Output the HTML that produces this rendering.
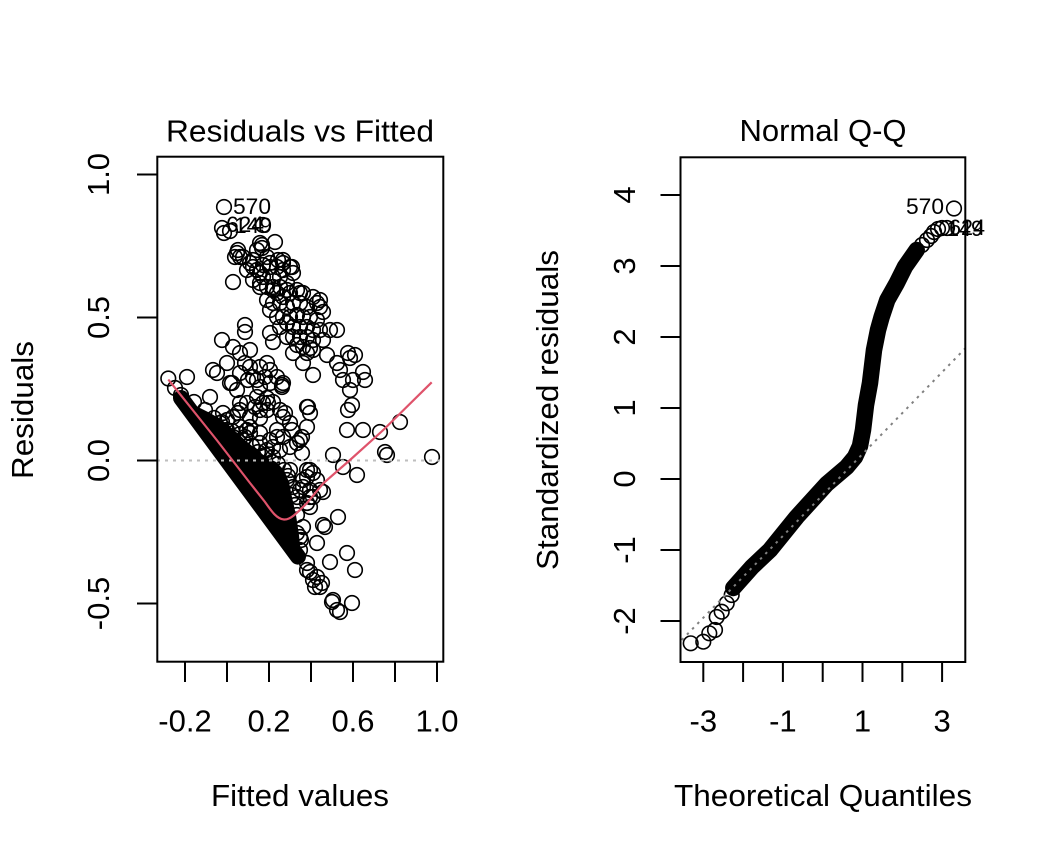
<!DOCTYPE html>
<html><head><meta charset="utf-8"><style>
html,body{margin:0;padding:0;background:#fff;}
svg{display:block;}
text{font-family:"Liberation Sans",Arial,Helvetica,sans-serif;fill:#000;}
.t{font-size:31px;}
.l{font-size:22px;}
</style></head><body>
<svg width="1046" height="858" viewBox="0 0 1046 858" xmlns="http://www.w3.org/2000/svg">
<rect width="1046" height="858" fill="#fff"/>

<!-- ============ LEFT PLOT ============ -->
<text class="t" x="300" y="141.5" text-anchor="middle" textLength="268" lengthAdjust="spacingAndGlyphs">Residuals vs Fitted</text>
<text class="t" x="300" y="806" text-anchor="middle" textLength="178" lengthAdjust="spacingAndGlyphs">Fitted values</text>
<text class="t" transform="translate(33,410) rotate(-90)" text-anchor="middle" textLength="138" lengthAdjust="spacingAndGlyphs">Residuals</text>

<g stroke="#000" stroke-width="2" fill="none">
<path d="M137,174.5H157M137,317.5H157M137,460.5H157M137,603.5H157"/>
<path d="M185,662V682M227,662V682M269,662V682M311,662V682M353,662V682M395,662V682M437,662V682"/>
</g>
<text class="t" transform="translate(109,174.5) rotate(-90)" text-anchor="middle">1.0</text>
<text class="t" transform="translate(109,317.5) rotate(-90)" text-anchor="middle">0.5</text>
<text class="t" transform="translate(109,460.5) rotate(-90)" text-anchor="middle">0.0</text>
<text class="t" transform="translate(109,603.5) rotate(-90)" text-anchor="middle">-0.5</text>
<text class="t" x="185" y="731.5" text-anchor="middle">-0.2</text>
<text class="t" x="269" y="731.5" text-anchor="middle">0.2</text>
<text class="t" x="353" y="731.5" text-anchor="middle">0.6</text>
<text class="t" x="437" y="731.5" text-anchor="middle">1.0</text>

<!-- dense band -->
<path d="M181,398 L298,556.6" stroke="#000" stroke-width="16" stroke-linecap="round" fill="none"/>
<polygon points="186,400 198,407 210,413 222,420 234,430 246,441 257,450 266,457 276,462 284,470 289,482 292,497 296,515 299,535 301,555 300,562 184,402" fill="#000"/>

<g fill="none" stroke="#000" stroke-width="1.6">
<circle cx="168.3" cy="378.5" r="7.3"/><circle cx="175" cy="388" r="7.3"/><circle cx="181" cy="395" r="7.3"/>
<circle cx="224" cy="207" r="7.3"/><circle cx="222" cy="228" r="7.3"/><circle cx="224" cy="233" r="7.3"/><circle cx="230" cy="231" r="7.3"/>
<circle cx="263" cy="225" r="7.3"/><circle cx="275" cy="242" r="7.3"/><circle cx="260" cy="243" r="7.3"/><circle cx="262" cy="248" r="7.3"/>
<circle cx="237" cy="253" r="7.3"/><circle cx="240" cy="257" r="7.3"/><circle cx="253" cy="260" r="7.3"/><circle cx="267" cy="257" r="7.3"/>
<circle cx="270" cy="267" r="7.3"/><circle cx="253" cy="267" r="7.3"/><circle cx="260" cy="273" r="7.3"/><circle cx="277" cy="267" r="7.3"/>
<circle cx="283" cy="263" r="7.3"/><circle cx="290" cy="267" r="7.3"/><circle cx="293" cy="273" r="7.3"/><circle cx="280" cy="277" r="7.3"/>
<circle cx="233" cy="282" r="7.3"/><circle cx="260" cy="287" r="7.3"/><circle cx="273" cy="287" r="7.3"/><circle cx="287" cy="290" r="7.3"/>
<circle cx="300" cy="293" r="7.3"/><circle cx="313" cy="297" r="7.3"/><circle cx="320" cy="300" r="7.3"/><circle cx="238" cy="250" r="7.3"/>
<circle cx="235" cy="257" r="7.3"/><circle cx="243" cy="257" r="7.3"/><circle cx="257" cy="250" r="7.3"/><circle cx="262" cy="245" r="7.3"/>
<circle cx="250" cy="263" r="7.3"/><circle cx="247" cy="270" r="7.3"/><circle cx="257" cy="270" r="7.3"/><circle cx="263" cy="265" r="7.3"/>
<circle cx="270" cy="263" r="7.3"/><circle cx="278" cy="260" r="7.3"/><circle cx="283" cy="260" r="7.3"/><circle cx="292" cy="267" r="7.3"/>
<circle cx="283" cy="270" r="7.3"/><circle cx="273" cy="277" r="7.3"/><circle cx="263" cy="277" r="7.3"/><circle cx="253" cy="280" r="7.3"/>
<circle cx="260" cy="283" r="7.3"/><circle cx="267" cy="287" r="7.3"/><circle cx="273" cy="290" r="7.3"/><circle cx="280" cy="287" r="7.3"/>
<circle cx="287" cy="283" r="7.3"/><circle cx="277" cy="293" r="7.3"/><circle cx="283" cy="297" r="7.3"/><circle cx="290" cy="293" r="7.3"/>
<circle cx="297" cy="290" r="7.3"/><circle cx="303" cy="293" r="7.3"/><circle cx="273" cy="303" r="7.3"/><circle cx="280" cy="303" r="7.3"/>
<circle cx="287" cy="307" r="7.3"/><circle cx="293" cy="303" r="7.3"/><circle cx="300" cy="303" r="7.3"/><circle cx="307" cy="307" r="7.3"/>
<circle cx="317" cy="303" r="7.3"/><circle cx="320" cy="307" r="7.3"/><circle cx="323" cy="312" r="7.3"/><circle cx="277" cy="317" r="7.3"/>
<circle cx="283" cy="317" r="7.3"/><circle cx="290" cy="317" r="7.3"/><circle cx="297" cy="315" r="7.3"/><circle cx="303" cy="317" r="7.3"/>
<circle cx="310" cy="317" r="7.3"/><circle cx="317" cy="320" r="7.3"/><circle cx="280" cy="327" r="7.3"/><circle cx="287" cy="323" r="7.3"/>
<circle cx="293" cy="327" r="7.3"/><circle cx="300" cy="327" r="7.3"/><circle cx="307" cy="327" r="7.3"/><circle cx="313" cy="330" r="7.3"/>
<circle cx="320" cy="330" r="7.3"/><circle cx="330" cy="330" r="7.3"/><circle cx="337" cy="330" r="7.3"/><circle cx="270" cy="333" r="7.3"/>
<circle cx="273" cy="342" r="7.3"/><circle cx="287" cy="337" r="7.3"/><circle cx="293" cy="337" r="7.3"/><circle cx="300" cy="337" r="7.3"/>
<circle cx="307" cy="337" r="7.3"/><circle cx="313" cy="340" r="7.3"/><circle cx="323" cy="340" r="7.3"/><circle cx="297" cy="345" r="7.3"/>
<circle cx="303" cy="347" r="7.3"/><circle cx="310" cy="348" r="7.3"/><circle cx="293" cy="353" r="7.3"/><circle cx="307" cy="353" r="7.3"/>
<circle cx="313" cy="350" r="7.3"/><circle cx="303" cy="363" r="7.3"/><circle cx="313" cy="375" r="7.3"/><circle cx="327" cy="355" r="7.3"/>
<circle cx="267" cy="300" r="7.3"/><circle cx="270" cy="310" r="7.3"/>
<circle cx="348" cy="353" r="7.3"/><circle cx="355" cy="355" r="7.3"/><circle cx="350" cy="358" r="7.3"/><circle cx="337" cy="363" r="7.3"/>
<circle cx="340" cy="370" r="7.3"/><circle cx="343" cy="380" r="7.3"/><circle cx="353" cy="380" r="7.3"/><circle cx="363" cy="372" r="7.3"/>
<circle cx="365" cy="380" r="7.3"/><circle cx="350" cy="390" r="7.3"/><circle cx="352" cy="405" r="7.3"/><circle cx="348" cy="410" r="7.3"/>
<circle cx="245" cy="325" r="7.3"/><circle cx="245" cy="332" r="7.3"/><circle cx="222" cy="340" r="7.3"/><circle cx="233" cy="347" r="7.3"/>
<circle cx="240" cy="353" r="7.3"/><circle cx="250" cy="350" r="7.3"/><circle cx="245" cy="363" r="7.3"/><circle cx="250" cy="367" r="7.3"/>
<circle cx="227" cy="363" r="7.3"/><circle cx="213" cy="370" r="7.3"/><circle cx="230" cy="383" r="7.3"/><circle cx="237" cy="390" r="7.3"/>
<circle cx="210" cy="397" r="7.3"/><circle cx="187" cy="377" r="7.3"/><circle cx="260" cy="367" r="7.3"/>
<circle cx="267" cy="363" r="7.3"/><circle cx="270" cy="370" r="7.3"/><circle cx="265" cy="377" r="7.3"/><circle cx="257" cy="380" r="7.3"/>
<circle cx="260" cy="387" r="7.3"/><circle cx="270" cy="383" r="7.3"/><circle cx="277" cy="377" r="7.3"/><circle cx="283" cy="383" r="7.3"/>
<circle cx="282" cy="387" r="7.3"/><circle cx="257" cy="397" r="7.3"/><circle cx="263" cy="403" r="7.3"/><circle cx="268" cy="403" r="7.3"/>
<circle cx="260" cy="410" r="7.3"/><circle cx="247" cy="403" r="7.3"/><circle cx="240" cy="410" r="7.3"/><circle cx="250" cy="417" r="7.3"/>
<circle cx="233" cy="417" r="7.3"/><circle cx="223" cy="413" r="7.3"/><circle cx="220" cy="423" r="7.3"/><circle cx="280" cy="410" r="7.3"/>
<circle cx="283" cy="417" r="7.3"/><circle cx="290" cy="423" r="7.3"/><circle cx="307" cy="407" r="7.3"/><circle cx="310" cy="413" r="7.3"/>
<circle cx="307" cy="427" r="7.3"/><circle cx="302" cy="437" r="7.3"/><circle cx="297" cy="443" r="7.3"/><circle cx="277" cy="430" r="7.3"/>
<circle cx="270" cy="440" r="7.3"/><circle cx="283" cy="437" r="7.3"/><circle cx="290" cy="447" r="7.3"/><circle cx="280" cy="450" r="7.3"/>
<circle cx="273" cy="457" r="7.3"/><circle cx="267" cy="450" r="7.3"/><circle cx="260" cy="443" r="7.3"/><circle cx="250" cy="433" r="7.3"/>
<circle cx="243" cy="440" r="7.3"/><circle cx="233" cy="437" r="7.3"/><circle cx="227" cy="430" r="7.3"/><circle cx="240" cy="427" r="7.3"/>
<circle cx="250" cy="427" r="7.3"/><circle cx="347" cy="430" r="7.3"/><circle cx="363" cy="430" r="7.3"/><circle cx="380" cy="432" r="7.3"/>
<circle cx="400" cy="422" r="7.3"/><circle cx="333" cy="455" r="7.3"/><circle cx="343" cy="467" r="7.3"/><circle cx="357" cy="475" r="7.3"/>
<circle cx="385" cy="452" r="7.3"/><circle cx="387" cy="455" r="7.3"/><circle cx="432" cy="457" r="7.3"/><circle cx="307" cy="470" r="7.3"/>
<circle cx="313" cy="473" r="7.3"/><circle cx="317" cy="480" r="7.3"/><circle cx="303" cy="480" r="7.3"/><circle cx="300" cy="490" r="7.3"/>
<circle cx="293" cy="487" r="7.3"/><circle cx="310" cy="490" r="7.3"/><circle cx="323" cy="492" r="7.3"/><circle cx="313" cy="497" r="7.3"/>
<circle cx="310" cy="507" r="7.3"/><circle cx="297" cy="497" r="7.3"/><circle cx="287" cy="480" r="7.3"/><circle cx="290" cy="470" r="7.3"/>
<circle cx="283" cy="497" r="7.3"/><circle cx="280" cy="487" r="7.3"/>
<circle cx="217" cy="373" r="7.3"/><circle cx="232" cy="383" r="7.3"/><circle cx="240" cy="373" r="7.3"/><circle cx="248" cy="380" r="7.3"/>
<circle cx="253" cy="377" r="7.3"/><circle cx="267" cy="398" r="7.3"/><circle cx="273" cy="402" r="7.3"/><circle cx="282" cy="385" r="7.3"/>
<circle cx="308" cy="407" r="7.3"/><circle cx="292" cy="430" r="7.3"/><circle cx="300" cy="440" r="7.3"/><circle cx="302" cy="453" r="7.3"/>
<circle cx="277" cy="437" r="7.3"/><circle cx="273" cy="447" r="7.3"/><circle cx="227" cy="420" r="7.3"/><circle cx="238" cy="413" r="7.3"/>
<circle cx="247" cy="430" r="7.3"/><circle cx="240" cy="403" r="7.3"/><circle cx="255" cy="407" r="7.3"/><circle cx="260" cy="418" r="7.3"/>
<circle cx="267" cy="410" r="7.3"/><circle cx="245" cy="437" r="7.3"/><circle cx="260" cy="433" r="7.3"/><circle cx="285" cy="413" r="7.3"/>
<circle cx="310" cy="470" r="7.3"/><circle cx="307" cy="477" r="7.3"/><circle cx="320" cy="490" r="7.3"/><circle cx="303" cy="487" r="7.3"/>
<circle cx="310" cy="497" r="7.3"/><circle cx="307" cy="503" r="7.3"/>
<circle cx="338" cy="517" r="7.3"/><circle cx="325" cy="527" r="7.3"/><circle cx="303" cy="527" r="7.3"/><circle cx="300" cy="537" r="7.3"/>
<circle cx="317" cy="543" r="7.3"/><circle cx="347" cy="553" r="7.3"/><circle cx="330" cy="562" r="7.3"/><circle cx="355" cy="570" r="7.3"/>
<circle cx="307" cy="563" r="7.3"/><circle cx="310" cy="572" r="7.3"/><circle cx="317" cy="577" r="7.3"/><circle cx="322" cy="583" r="7.3"/>
<circle cx="315" cy="587" r="7.3"/><circle cx="332" cy="602" r="7.3"/><circle cx="340" cy="612" r="7.3"/><circle cx="337" cy="610" r="7.3"/>
<circle cx="352" cy="603" r="7.3"/><circle cx="297" cy="533" r="7.3"/><circle cx="300" cy="550" r="7.3"/><circle cx="323" cy="525" r="7.3"/>
<circle cx="307" cy="570" r="7.3"/><circle cx="313" cy="580" r="7.3"/><circle cx="320" cy="587" r="7.3"/><circle cx="333" cy="600" r="7.3"/>
<circle cx="205" cy="410" r="7.3"/><circle cx="222" cy="422" r="7.3"/><circle cx="240" cy="434" r="7.3"/><circle cx="252" cy="446" r="7.3"/>
<circle cx="265" cy="455" r="7.3"/><circle cx="278" cy="464" r="7.3"/><circle cx="288" cy="476" r="7.3"/><circle cx="292" cy="495" r="7.3"/>
<circle cx="297" cy="515" r="7.3"/><circle cx="301" cy="540" r="7.3"/><circle cx="194" cy="402" r="7.3"/>
<circle cx="272" cy="462" r="7.3"/><circle cx="284" cy="470" r="7.3"/><circle cx="258" cy="452" r="7.3"/><circle cx="232" cy="431" r="7.3"/>
<circle cx="214" cy="418" r="7.3"/><circle cx="295" cy="505" r="7.3"/>
</g>

<!-- zero line and smoother -->
<path d="M157,460.5H443" stroke="#bebebe" stroke-width="2" stroke-dasharray="3 5" fill="none"/>
<path d="M168.3,379.5 L216.7,440 L250,483 L265,502 C272,512 277,519 284,519.5 C290,520 296,514 306.7,503.3 L323.3,483.3 L350,460 L383.3,430 L431.7,382.3" stroke="#DF536B" stroke-width="2.2" fill="none"/>

<text class="l" x="233" y="214" textLength="38" lengthAdjust="spacingAndGlyphs">570</text>
<text class="l" x="226" y="232" textLength="38" lengthAdjust="spacingAndGlyphs">624</text>
<text class="l" x="234" y="233" textLength="38" lengthAdjust="spacingAndGlyphs">149</text>

<rect x="157.3" y="156.7" width="286" height="505" fill="none" stroke="#000" stroke-width="2"/>

<!-- ============ RIGHT PLOT ============ -->
<text class="t" x="823" y="141" text-anchor="middle" textLength="167" lengthAdjust="spacingAndGlyphs">Normal Q-Q</text>
<text class="t" x="823" y="806" text-anchor="middle" textLength="298" lengthAdjust="spacingAndGlyphs">Theoretical Quantiles</text>
<text class="t" transform="translate(558,410) rotate(-90)" text-anchor="middle" textLength="320" lengthAdjust="spacingAndGlyphs">Standardized residuals</text>

<g stroke="#000" stroke-width="2" fill="none">
<path d="M660.5,621H680.5M660.5,550H680.5M660.5,479H680.5M660.5,408H680.5M660.5,337H680.5M660.5,266H680.5M660.5,195H680.5"/>
<path d="M703.3,662V682M743.1,662V682M782.9,662V682M822.7,662V682M862.5,662V682M902.3,662V682M942.1,662V682"/>
</g>
<text class="t" transform="translate(635,621) rotate(-90)" text-anchor="middle">-2</text>
<text class="t" transform="translate(635,550) rotate(-90)" text-anchor="middle">-1</text>
<text class="t" transform="translate(635,479) rotate(-90)" text-anchor="middle">0</text>
<text class="t" transform="translate(635,408) rotate(-90)" text-anchor="middle">1</text>
<text class="t" transform="translate(635,337) rotate(-90)" text-anchor="middle">2</text>
<text class="t" transform="translate(635,266) rotate(-90)" text-anchor="middle">3</text>
<text class="t" transform="translate(635,195) rotate(-90)" text-anchor="middle">4</text>
<text class="t" x="703.3" y="731.5" text-anchor="middle">-3</text>
<text class="t" x="782.9" y="731.5" text-anchor="middle">-1</text>
<text class="t" x="862.5" y="731.5" text-anchor="middle">1</text>
<text class="t" x="942.1" y="731.5" text-anchor="middle">3</text>

<path d="M733.3,588 L752,567 L770,550 L796.7,517 L826.7,484 L846.7,467 L855,457 L860,446 L863,430 L866,405 L870,383 L874,350 L878,330 L881.7,316.7 L887.3,300 L896.7,283.3 L905,266.7 L916.7,250" stroke="#000" stroke-width="16.5" stroke-linecap="round" stroke-linejoin="round" fill="none"/>
<g fill="none" stroke="#000" stroke-width="1.6">
<circle cx="690.7" cy="643.3" r="7.3"/><circle cx="703.3" cy="641.7" r="7.3"/><circle cx="709.3" cy="633.3" r="7.3"/><circle cx="715" cy="630" r="7.3"/>
<circle cx="716.7" cy="617" r="7.3"/><circle cx="721.7" cy="611.7" r="7.3"/><circle cx="726.7" cy="603.3" r="7.3"/><circle cx="731.7" cy="595" r="7.3"/>
<circle cx="922" cy="245" r="7.3"/><circle cx="927" cy="240" r="7.3"/><circle cx="931" cy="236" r="7.3"/><circle cx="934" cy="232" r="7.3"/>
<circle cx="938" cy="229" r="7.3"/><circle cx="942" cy="228" r="7.3"/><circle cx="947" cy="228" r="7.3"/><circle cx="954" cy="208.5" r="7.3"/>
</g>
<path d="M681.7,640 L965.3,348.3" stroke="#808080" stroke-width="2" stroke-dasharray="2.5 5" fill="none"/>

<text class="l" x="944" y="214" text-anchor="end" textLength="38" lengthAdjust="spacingAndGlyphs">570</text>
<text class="l" x="947" y="236" textLength="36" lengthAdjust="spacingAndGlyphs">149</text>
<text class="l" x="949" y="235" textLength="36" lengthAdjust="spacingAndGlyphs">624</text>

<rect x="680.5" y="157.3" width="284.8" height="504.7" fill="none" stroke="#000" stroke-width="2"/>
</svg>
</body></html>
